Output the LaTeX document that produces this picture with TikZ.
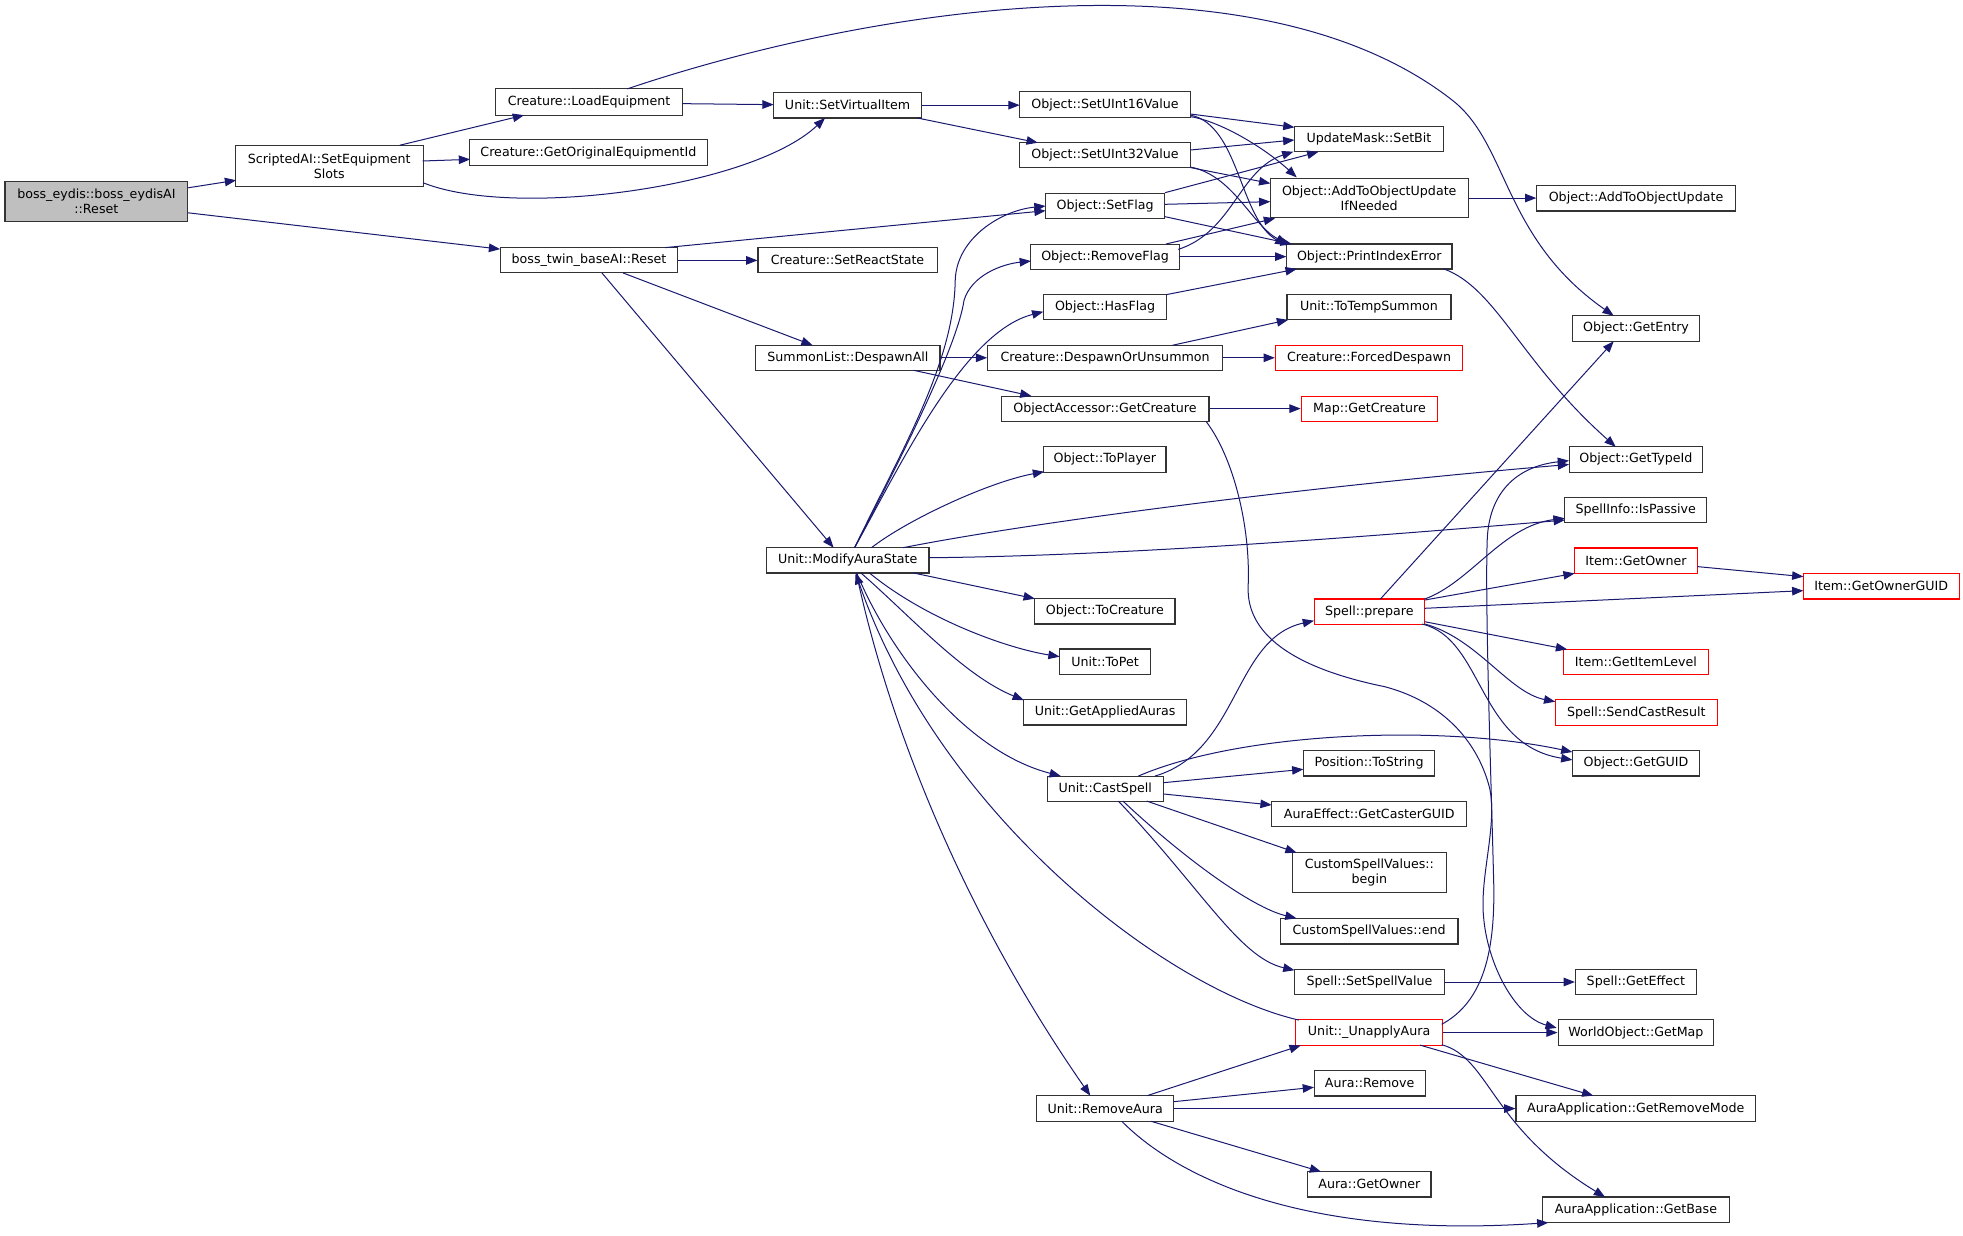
\documentclass[tikz,border=0pt]{standalone}
\usepackage{fontspec}
\setmainfont{DejaVu Sans}
\usetikzlibrary{arrows.meta}
\definecolor{edgec}{HTML}{191970}
\definecolor{boxc}{HTML}{333333}
\definecolor{rootc}{HTML}{BFBFBF}
\begin{document}
\begin{tikzpicture}[x=1pt,y=-1pt,
  box/.style={draw=boxc, line width=0.9pt, fill=white, inner sep=0pt, align=center,
    font=\fontsize{10.1}{12}\selectfont},
  redbox/.style={box, draw=red},
  rootbox/.style={box, fill=rootc},
  conn/.style={draw=edgec, line width=0.8pt, -{Triangle[length=9pt,width=6.8pt]}}]
\useasboundingbox[fill=white] (0,0) rectangle (1568,986.5);
% nodes
\node[rootbox, minimum width=146pt, minimum height=32pt] (eydis) at (77,161) {boss\_eydis::boss\_eydisAI\\::Reset};
\node[box, minimum width=150pt, minimum height=33pt] (scripted) at (263,132.5) {ScriptedAI::SetEquipment\\Slots};
\node[box, minimum width=149pt, minimum height=21pt] (loadequip) at (470.5,81.5) {Creature::LoadEquipment};
\node[box, minimum width=190pt, minimum height=20.5pt] (origequip) at (470,122) {Creature::GetOriginalEquipmentId};
\node[box, minimum width=142pt, minimum height=20pt] (twinreset) at (470.5,208) {boss\_twin\_baseAI::Reset};
\node[box, minimum width=118pt, minimum height=20.5pt] (setvirtual) at (677,84) {Unit::SetVirtualItem};
\node[box, minimum width=143pt, minimum height=20pt] (setreact) at (677,208) {Creature::SetReactState};
\node[box, minimum width=147pt, minimum height=20pt] (despawnall) at (677.3,285.8) {SummonList::DespawnAll};
\node[box, minimum width=130pt, minimum height=20.2pt] (modaura) at (677.1,447.6) {Unit::ModifyAuraState};
\node[box, minimum width=136.5pt, minimum height=21pt] (setu16) at (882.7,83.5) {Object::SetUInt16Value};
\node[box, minimum width=136.5pt, minimum height=20pt] (setu32) at (882.7,124) {Object::SetUInt32Value};
\node[box, minimum width=95.5pt, minimum height=20pt] (setflag) at (882.7,164.6) {Object::SetFlag};
\node[box, minimum width=118.5pt, minimum height=20pt] (removeflag) at (882.7,205) {Object::RemoveFlag};
\node[box, minimum width=98pt, minimum height=20pt] (hasflag) at (882.7,245.5) {Object::HasFlag};
\node[box, minimum width=187.5pt, minimum height=20pt] (despawnorun) at (882.7,285.8) {Creature::DespawnOrUnsummon};
\node[box, minimum width=166pt, minimum height=20pt] (oacreature) at (882.7,326.4) {ObjectAccessor::GetCreature};
\node[box, minimum width=97.8pt, minimum height=20.2pt] (toplayer) at (882.5,367) {Object::ToPlayer};
\node[box, minimum width=112pt, minimum height=20.3pt] (tocreature) at (882.6,488.3) {Object::ToCreature};
\node[box, minimum width=72.6pt, minimum height=20.2pt] (topet) at (882.7,528.5) {Unit::ToPet};
\node[box, minimum width=129.8pt, minimum height=20.2pt] (appliedauras) at (882.7,569) {Unit::GetAppliedAuras};
\node[box, minimum width=92.8pt, minimum height=20pt] (castspell) at (882.8,629.9) {Unit::CastSpell};
\node[box, minimum width=109.6pt, minimum height=20.5pt] (removeaura) at (882.8,885.5) {Unit::RemoveAura};
\node[box, minimum width=119pt, minimum height=20pt] (setbit) at (1093.5,111.3) {UpdateMask::SetBit};
\node[box, minimum width=158pt, minimum height=31.5pt] (addifneeded) at (1093.7,158.2) {Object::AddToObjectUpdate\\IfNeeded};
\node[box, minimum width=132.3pt, minimum height=20pt] (printidx) at (1093.7,204.9) {Object::PrintIndexError};
\node[box, minimum width=131pt, minimum height=20pt] (totempsummon) at (1093.5,245.5) {Unit::ToTempSummon};
\node[redbox, minimum width=149.6pt, minimum height=20pt] (forceddespawn) at (1093.6,285.8) {Creature::ForcedDespawn};
\node[redbox, minimum width=109pt, minimum height=20pt] (mapcreature) at (1093.9,326.4) {Map::GetCreature};
\node[redbox, minimum width=88.3pt, minimum height=20pt] (prepare) at (1093.8,488.5) {Spell::prepare};
\node[box, minimum width=104.9pt, minimum height=20.3pt] (tostring) at (1093.6,609.7) {Position::ToString};
\node[box, minimum width=155.8pt, minimum height=20pt] (castergu) at (1093.7,650) {AuraEffect::GetCasterGUID};
\node[box, minimum width=123pt, minimum height=31.7pt] (csvbegin) at (1093.8,697) {CustomSpellValues::\\begin};
\node[box, minimum width=142pt, minimum height=20.5pt] (csvend) at (1093.6,743.8) {CustomSpellValues::end};
\node[box, minimum width=119.8pt, minimum height=20.2pt] (setspellvalue) at (1093.9,784.4) {Spell::SetSpellValue};
\node[redbox, minimum width=117.2pt, minimum height=20.5pt] (unapply) at (1093.6,824.8) {Unit::\_UnapplyAura};
\node[box, minimum width=88.7pt, minimum height=20.2pt] (auraremove) at (1094,865.4) {Aura::Remove};
\node[box, minimum width=98.5pt, minimum height=20.3pt] (auragetowner) at (1093.8,946) {Aura::GetOwner};
\node[box, minimum width=158.4pt, minimum height=20.7pt] (addtoobj) at (1306.8,158.2) {Object::AddToObjectUpdate};
\node[box, minimum width=101.6pt, minimum height=20.4pt] (getentry) at (1306.8,262.4) {Object::GetEntry};
\node[box, minimum width=106.7pt, minimum height=20.2pt] (gettypeid) at (1306.7,367) {Object::GetTypeId};
\node[box, minimum width=113.4pt, minimum height=20.2pt] (ispassive) at (1306.6,407.4) {SpellInfo::IsPassive};
\node[redbox, minimum width=98pt, minimum height=20.3pt] (itemgetowner) at (1306.8,447.9) {Item::GetOwner};
\node[redbox, minimum width=115.4pt, minimum height=20.2pt] (itemlevel) at (1306.7,528.8) {Item::GetItemLevel};
\node[redbox, minimum width=129.3pt, minimum height=20.3pt] (sendcast) at (1307,569.2) {Spell::SendCastResult};
\node[box, minimum width=101.6pt, minimum height=20.3pt] (getguid) at (1306.8,609.7) {Object::GetGUID};
\node[box, minimum width=96.5pt, minimum height=20.2pt] (geteffect) at (1306.7,784.4) {Spell::GetEffect};
\node[box, minimum width=124.3pt, minimum height=20.5pt] (getmap) at (1306.7,824.8) {WorldObject::GetMap};
\node[box, minimum width=191.3pt, minimum height=20.5pt] (getremovemode) at (1306.6,885.5) {AuraApplication::GetRemoveMode};
\node[box, minimum width=148.9pt, minimum height=20.5pt] (getbase) at (1306.8,966.4) {AuraApplication::GetBase};
\node[redbox, minimum width=124.3pt, minimum height=20.5pt] (getownerguid) at (1502.7,468.2) {Item::GetOwnerGUID};
% edges
\draw[conn] ([shift={(73.4,-11)}]eydis.center) -- ([shift={(-74.4,11.5)}]scripted.center);
\draw[conn] ([shift={(73.3,9)}]eydis.center) -- ([shift={(-71,-9)}]twinreset.center);
\draw[conn] ([shift={(56.4,-16.5)}]scripted.center) -- ([shift={(-51.9,10.5)}]loadequip.center);
\draw[conn] ([shift={(74.6,-3.9)}]scripted.center) -- ([shift={(-94.5,5.3)}]origequip.center);
\draw[conn] ([shift={(75,13.5)}]scripted.center) .. controls (410,175) and (600,150) .. ([shift={(-18,10.3)}]setvirtual.center);
\draw[conn] ([shift={(74.5,1.3)}]loadequip.center) -- ([shift={(-59,-0.4)}]setvirtual.center);
\draw[conn] ([shift={(30.5,-10.5)}]loadequip.center) .. controls (700,4) and (1005,-41) .. (1160,80) .. controls (1205,115) and (1200,190) .. ([shift={(-17.8,-10.2)}]getentry.center);
\draw[conn] ([shift={(59.5,0)}]setvirtual.center) -- ([shift={(-68.2,0.5)}]setu16.center);
\draw[conn] ([shift={(56,10.3)}]setvirtual.center) -- ([shift={(-53.7,-10)}]setu32.center);
\draw[conn] ([shift={(68.4,7.6)}]setu16.center) -- ([shift={(-59.5,-9.6)}]setbit.center);
\draw[conn] ([shift={(68.4,-4.2)}]setu32.center) -- ([shift={(-59.6,0.5)}]setbit.center);
\draw[conn] ([shift={(47.9,-10.7)}]setflag.center) -- ([shift={(-40.4,10)}]setbit.center);
\draw[conn] ([shift={(47.9,-1.4)}]setflag.center) -- ([shift={(-79,2.9)}]addifneeded.center);
\draw[conn] ([shift={(47.9,8.5)}]setflag.center) -- ([shift={(-61.9,-10)}]printidx.center);
\draw[conn] ([shift={(68.4,9.7)}]setu16.center) .. controls (975,97) and (1010,118) .. ([shift={(-57.9,-16.5)}]addifneeded.center);
\draw[conn] ([shift={(68.4,8.5)}]setu16.center) .. controls (990,100) and (990,175) .. ([shift={(-66.2,-8.9)}]printidx.center);
\draw[conn] ([shift={(68.4,9.9)}]setu32.center) -- ([shift={(-79,-11.7)}]addifneeded.center);
\draw[conn] ([shift={(68.4,9.5)}]setu32.center) .. controls (985,140) and (1000,180) .. ([shift={(-65.2,-10)}]printidx.center);
\draw[conn] ([shift={(58.5,-5.8)}]removeflag.center) .. controls (985,185) and (990,135) .. ([shift={(-60.4,9.9)}]setbit.center);
\draw[conn] ([shift={(48.7,-10.1)}]removeflag.center) -- ([shift={(-75.2,16.2)}]addifneeded.center);
\draw[conn] ([shift={(59.25,0)}]removeflag.center) -- ([shift={(-66.2,0.1)}]printidx.center);
\draw[conn] ([shift={(48.7,-10.1)}]hasflag.center) -- ([shift={(-57.9,10)}]printidx.center);
\draw[conn] (addifneeded.east) -- (addtoobj.west);
\draw[conn] ([shift={(59.8,10)}]printidx.center) .. controls (1195,230) and (1215,290) .. ([shift={(-16.1,-10.1)}]gettypeid.center);
\draw[conn] ([shift={(60.7,-10.2)}]twinreset.center) -- ([shift={(-47.5,3.7)}]setflag.center);
\draw[conn] (twinreset.east) -- (setreact.west);
\draw[conn] ([shift={(27.1,10)}]twinreset.center) -- ([shift={(-28.2,-10)}]despawnall.center);
\draw[conn] ([shift={(10.3,10)}]twinreset.center) -- ([shift={(-11.2,-10.1)}]modaura.center);
\draw[conn] (despawnall.east) -- (despawnorun.west);
\draw[conn] ([shift={(52.5,10)}]despawnall.center) -- ([shift={(-58.8,-10.1)}]oacreature.center);
\draw[conn] ([shift={(53.8,-10)}]despawnorun.center) -- ([shift={(-64.6,10)}]totempsummon.center);
\draw[conn] (despawnorun.east) -- (forceddespawn.west);
\draw[conn] (oacreature.east) -- (mapcreature.west);
\draw[conn] ([shift={(80.6,10.1)}]oacreature.center) .. controls (985,365) and (999,420) .. (997,468)
  .. controls (995,510) and (1040,535) .. (1106,548.5)
  .. controls (1150,560) and (1180,590) .. (1190,630)
  .. controls (1196,660) and (1182,700) .. (1185,732)
  .. controls (1188,770) and (1210,812) .. ([shift={(-63.2,-3.7)}]getmap.center);
\draw[conn] ([shift={(5.5,-10.1)}]modaura.center) .. controls (720,360) and (762,290) .. (763,224) .. controls (764,190) and (800,168) .. ([shift={(-47.5,0)}]setflag.center);
\draw[conn] ([shift={(5.5,-10.1)}]modaura.center) .. controls (722,362) and (765,275) .. (770,240) .. controls (776,220) and (800,211) .. ([shift={(-59.2,3.5)}]removeflag.center);
\draw[conn] ([shift={(5.5,-10.1)}]modaura.center) .. controls (720,370) and (770,265) .. ([shift={(-49.3,3.5)}]hasflag.center);
\draw[conn] ([shift={(19,-10.1)}]modaura.center) .. controls (725,415) and (790,385) .. ([shift={(-48.5,9.8)}]toplayer.center);
\draw[conn] ([shift={(44.2,-10.1)}]modaura.center) .. controls (820,418) and (1030,390) .. ([shift={(-53.4,4)}]gettypeid.center);
\draw[conn] ([shift={(65.1,-2.1)}]modaura.center) .. controls (900,444) and (1100,428) .. ([shift={(-56.6,8)}]ispassive.center);
\draw[conn] ([shift={(52.7,10.1)}]modaura.center) -- ([shift={(-56,-10.1)}]tocreature.center);
\draw[conn] ([shift={(17.4,10.1)}]modaura.center) .. controls (740,495) and (805,518) .. ([shift={(-36.3,-4)}]topet.center);
\draw[conn] ([shift={(10.6,10.1)}]modaura.center) .. controls (725,490) and (770,540) .. ([shift={(-64.9,-9.8)}]appliedauras.center);
\draw[conn] ([shift={(7.2,10.1)}]modaura.center) .. controls (710,520) and (770,600) .. ([shift={(-35.4,-10)}]castspell.center);
\draw[conn] ([shift={(6.9,10.1)}]modaura.center) .. controls (710,580) and (770,730) .. ([shift={(-11.9,-10.3)}]removeaura.center);
\draw[conn] ([shift={(-56.2,-10)}]unapply.center) .. controls (930,790) and (750,650) .. ([shift={(6.3,10.1)}]modaura.center);
\draw[conn] ([shift={(39.8,-10)}]castspell.center) .. controls (990,600) and (985,510) .. ([shift={(-44.2,7.3)}]prepare.center);
\draw[conn] ([shift={(26.5,-10)}]castspell.center) .. controls (990,585) and (1150,578) .. ([shift={(-50.8,-9)}]getguid.center);
\draw[conn] ([shift={(46.4,-4.7)}]castspell.center) -- ([shift={(-52.5,4.8)}]tostring.center);
\draw[conn] ([shift={(46.4,4.3)}]castspell.center) -- ([shift={(-77.9,-7)}]castergu.center);
\draw[conn] ([shift={(33.2,10)}]castspell.center) -- ([shift={(-58.1,-15.9)}]csvbegin.center);
\draw[conn] ([shift={(14.2,10)}]castspell.center) .. controls (945,685) and (1000,725) .. ([shift={(-58,-10.3)}]csvend.center);
\draw[conn] ([shift={(10.5,10)}]castspell.center) .. controls (960,710) and (990,765) .. ([shift={(-59.9,-9.4)}]setspellvalue.center);
\draw[conn] (setspellvalue.east) -- (geteffect.west);
\draw[conn] ([shift={(8.8,-10)}]prepare.center) -- ([shift={(-17.8,10.2)}]getentry.center);
\draw[conn] ([shift={(44.2,-10)}]prepare.center) .. controls (1175,465) and (1200,420) .. ([shift={(-56.7,6.6)}]ispassive.center);
\draw[conn] ([shift={(44.2,-9.2)}]prepare.center) -- ([shift={(-49,10.1)}]itemgetowner.center);
\draw[conn] ([shift={(44.2,-2.6)}]prepare.center) -- ([shift={(-62.2,3.6)}]getownerguid.center);
\draw[conn] ([shift={(44.2,8.1)}]prepare.center) -- ([shift={(-54.9,-10.1)}]itemlevel.center);
\draw[conn] ([shift={(44.2,9.9)}]prepare.center) .. controls (1180,510) and (1205,553) .. ([shift={(-64.7,-8.7)}]sendcast.center);
\draw[conn] ([shift={(42.2,10)}]prepare.center) .. controls (1185,510) and (1180,595) .. ([shift={(-50.8,-2.7)}]getguid.center);
\draw[conn] ([shift={(49.1,4.7)}]itemgetowner.center) -- ([shift={(-62.2,-7.6)}]getownerguid.center);
\draw[conn] ([shift={(58,-6.6)}]unapply.center) .. controls (1185,800) and (1195,760) .. (1193,700)
  .. controls (1191,620) and (1186,480) .. (1188,430)
  .. controls (1190,390) and (1215,372) .. ([shift={(-53.4,1)}]gettypeid.center);
\draw[conn] (unapply.east) -- (getmap.west);
\draw[conn] ([shift={(40.7,10)}]unapply.center) -- ([shift={(-33.9,-10.3)}]getremovemode.center);
\draw[conn] ([shift={(58,9.7)}]unapply.center) .. controls (1190,845) and (1190,900) .. ([shift={(-24.7,-10.2)}]getbase.center);
\draw[conn] ([shift={(33.4,-10.3)}]removeaura.center) -- ([shift={(-54.6,10.3)}]unapply.center);
\draw[conn] ([shift={(54.8,-5.5)}]removeaura.center) -- ([shift={(-44.4,3.1)}]auraremove.center);
\draw[conn] (removeaura.east) -- (getremovemode.west);
\draw[conn] ([shift={(36.8,10.2)}]removeaura.center) -- ([shift={(-38.6,-10.1)}]auragetowner.center);
\draw[conn] ([shift={(13.3,10.2)}]removeaura.center) .. controls (940,940) and (1040,990) .. ([shift={(-70,10.2)}]getbase.center);
\end{tikzpicture}
\end{document}
